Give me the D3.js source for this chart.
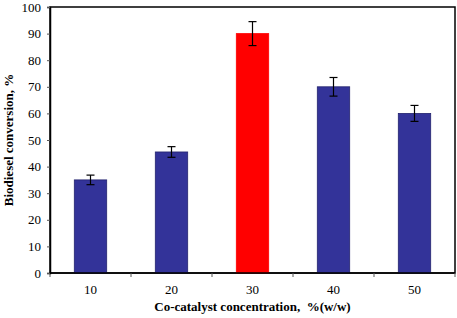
<!DOCTYPE html>
<html>
<head>
<meta charset="utf-8">
<script src="https://cdn.jsdelivr.net/npm/d3@7"></script>
<style>
  body { margin: 0; background: #fff; }
  text { font-family: "Liberation Serif", "Times New Roman", serif; }
</style>
</head>
<body>
<div id="chart"></div>
<script>
// data
var categories = ["10", "20", "30", "40", "50"];
var conversion = [35, 45.5, 90, 70, 60];
var errors = [1.8, 2, 4.5, 3.5, 3];
var yTicks = [0, 10, 20, 30, 40, 50, 60, 70, 80, 90, 100];

var margin = { top: 7, right: 2, bottom: 45, left: 50 };
var w = 457, h = 318;
var width = w - margin.left - margin.right;
var height = h - margin.top - margin.bottom;

var svg = d3.select("#chart")
  .append("svg")
    .attr("width", w)
    .attr("height", h)
  .append("g")
    .attr("transform", "translate(" + margin.left + "," + margin.top + ")");

var data = categories.map(function(c, i) { return { cat: c, value: conversion[i], err: errors[i] }; });

var xScale = d3.scaleBand().domain(categories).range([0, width]).paddingInner(0.6).paddingOuter(0.3);
var yScale = d3.scaleLinear().domain([0, 100]).range([height, 0]);

// frame (top and right)
svg.append("rect")
  .attr("x", 0).attr("y", 0)
  .attr("width", width).attr("height", height)
  .attr("fill", "none")
  .attr("stroke", "#000")
  .attr("stroke-width", 1.5);

// bars
svg.append("g")
  .selectAll("rect")
  .data(data)
  .enter().append("rect")
    .attr("x", function(d) { return xScale(d.cat); })
    .attr("y", function(d) { return yScale(d.value); })
    .attr("width", xScale.bandwidth())
    .attr("height", function(d) { return height - yScale(d.value); })
    .attr("fill", function(d) { return d.cat === "30" ? "#ff0000" : "#333399"; })
    .attr("stroke", function(d) { return d.cat === "30" ? "#ff0000" : "#24246e"; })
    .attr("stroke-width", 0.8);

// error bars
var eb = svg.append("g").attr("stroke", "#000").attr("stroke-width", 1.2);
data.forEach(function(d) {
  var cx = xScale(d.cat) + xScale.bandwidth() / 2;
  eb.append("line").attr("x1", cx).attr("x2", cx)
    .attr("y1", yScale(d.value + d.err)).attr("y2", yScale(d.value - d.err));
  [d.value + d.err, d.value - d.err].forEach(function(v) {
    eb.append("line").attr("x1", cx - 4).attr("x2", cx + 4)
      .attr("y1", yScale(v)).attr("y2", yScale(v));
  });
});

// x axis: tick marks between categories
var xAxisG = svg.append("g").attr("transform", "translate(0," + height + ")");
xAxisG.append("line").attr("x1", 0).attr("x2", width).attr("stroke", "#000").attr("stroke-width", 1.5);
var step = xScale.step();
d3.range(categories.length + 1).forEach(function(i) {
  var x = Math.min(i * step, width);
  xAxisG.append("line").attr("x1", x).attr("x2", x).attr("y1", 0).attr("y2", 4)
    .attr("stroke", "#555").attr("stroke-width", 1);
});
xAxisG.selectAll("text.cat")
  .data(categories)
  .enter().append("text")
    .attr("class", "cat")
    .attr("x", function(d) { return xScale(d) + xScale.bandwidth() / 2; })
    .attr("y", 21)
    .attr("text-anchor", "middle")
    .attr("font-size", "13px")
    .text(function(d) { return d; });

// y axis
var yAxis = d3.axisLeft(yScale).tickValues(yTicks).tickSize(3).tickPadding(6);
var yAxisG = svg.append("g").call(yAxis);
yAxisG.select(".domain").attr("stroke-width", 1.5);
yAxisG.selectAll(".tick line").attr("stroke", "#555");
yAxisG.selectAll(".tick text").attr("font-size", "13px").attr("font-family", "Liberation Serif, serif").attr("fill", "#000");

// axis titles
svg.append("text")
  .attr("x", width / 2)
  .attr("y", height + 38)
  .attr("text-anchor", "middle")
  .attr("font-size", "13px")
  .attr("font-weight", "bold")
  .attr("xml:space", "preserve")
  .style("white-space", "pre")
  .text("Co-catalyst concentration,  %(w/w)");

svg.append("text")
  .attr("transform", "translate(" + (13 - margin.left) + "," + (height / 2) + ") rotate(-90)")
  .attr("text-anchor", "middle")
  .attr("font-size", "13px")
  .attr("font-weight", "bold")
  .text("Biodiesel conversion, %");
</script>
</body>
</html>
